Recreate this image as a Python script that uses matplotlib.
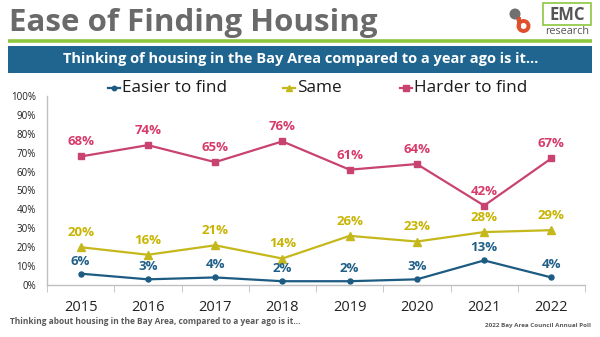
import matplotlib
matplotlib.use("Agg")
import matplotlib.pyplot as plt
from matplotlib.patches import Rectangle, Circle

plt.rcParams['font.family'] = ['Open Sans', 'DejaVu Sans']

years = ["2015", "2016", "2017", "2018", "2019", "2020", "2021", "2022"]
easier = [6, 3, 4, 2, 2, 3, 13, 4]
same = [20, 16, 21, 14, 26, 23, 28, 29]
harder = [68, 74, 65, 76, 61, 64, 42, 67]
series_names = ["Easier to find", "Same", "Harder to find"]
y_ticks = [0, 10, 20, 30, 40, 50, 60, 70, 80, 90, 100]

c_easier = "#1d5b82"
c_same = "#c5b81c"
c_harder = "#c9436f"
lbl_easier = "#1f5f88"
lbl_same = "#c8b400"
lbl_harder = "#d83a6a"

W, H = 600, 337
fig = plt.figure(figsize=(W / 100, H / 100), dpi=100)
fig.patch.set_facecolor("white")

# Page decoration layer in pixel units
deco = fig.add_axes([0, 0, 1, 1])
deco.set_xlim(0, W)
deco.set_ylim(H, 0)
deco.axis("off")

deco.text(9, 23, "Ease of Finding Housing", fontsize=22.5, fontweight="bold",
          color="#6a6a6a", va="center", ha="left")
deco.plot([8, 592], [40.5, 40.5], color="#8cc63e", lw=2.6, solid_capstyle="butt")
deco.add_patch(Rectangle((8, 46), 584, 27, facecolor="#1f6590", edgecolor="none"))
deco.text(301, 59.5, "Thinking of housing in the Bay Area compared to a year ago is it\u2026",
          fontsize=10.5, fontweight="bold", color="white", ha="center", va="center")

# Logo
deco.add_patch(Circle((515, 14), 5.5, facecolor="#707070", edgecolor="none"))
deco.plot([517, 519], [15, 21], color="#707070", lw=3)
deco.add_patch(Circle((523.5, 26), 5.0, facecolor="none", edgecolor="#e0502a", lw=2.8))
deco.plot([518.5, 518.5], [19, 26], color="#e0502a", lw=2.8)
deco.add_patch(Rectangle((543, 3), 48, 22, facecolor="none", edgecolor="#8cc63e", lw=1.2))
deco.text(567, 14.5, "EMC", fontsize=12, fontweight="bold", color="#555555",
          ha="center", va="center")
deco.text(567, 32, "research", fontsize=7.8, color="#555555", ha="center", va="center")

# Footers
deco.text(10, 321, "Thinking about housing in the Bay Area, compared to a year ago is it\u2026",
          fontsize=6.0, fontweight="bold", color="#5a5a5a", ha="left", va="center")
deco.text(591, 326, "2022 Bay Area Council Annual Poll", fontsize=4.5, fontweight="bold",
          color="#5a5a5a", ha="right", va="center")

# Legend
legend_items = [
    (series_names[0], c_easier, "o", 3.2, 108),
    (series_names[1], c_same, "^", 4.5, 283),
    (series_names[2], c_harder, "s", 4.2, 400),
]
for name, col, mk, ms, x0 in legend_items:
    deco.plot([x0, x0 + 12], [88, 88], color=col, lw=1.6)
    deco.plot([x0 + 6], [88], marker=mk, color=col, ms=ms, lw=0)
    deco.text(x0 + 14, 88, name, fontsize=12.3, color="#1a1a1a", ha="left", va="center")

# Chart
ax = fig.add_axes([47 / W, 52 / H, 538 / W, 189 / H])
x = list(range(len(years)))
ax.plot(x, harder, color=c_harder, lw=1.6, marker="s", ms=4.6)
ax.plot(x, same, color=c_same, lw=1.6, marker="^", ms=5.2)
ax.plot(x, easier, color=c_easier, lw=1.6, marker="o", ms=3.6)

for vals, col, off in ((harder, lbl_harder, 10.5), (same, lbl_same, 10.5), (easier, lbl_easier, 9)):
    for xi, v in zip(x, vals):
        ax.annotate(f"{v}%", (xi, v), xytext=(0, off), textcoords="offset points",
                    ha="center", va="center", fontsize=9.5, fontweight="bold", color=col)

ax.set_xlim(-0.5, len(years) - 0.5)
ax.set_ylim(0, 100)
ax.set_yticks(y_ticks)
ax.set_yticklabels([f"{t}%" for t in y_ticks], fontsize=7, color="#222222")
ax.set_xticks(x)
ax.set_xticklabels(years, fontsize=10.5, color="#222222")
ax.set_xticks([i - 0.5 for i in range(len(years) + 1)], minor=True)
ax.tick_params(axis="x", which="major", length=0, pad=11)
ax.tick_params(axis="x", which="minor", length=5, color="#bfbfbf", direction="out")
ax.tick_params(axis="y", length=0, pad=8)
for s in ["top", "right"]:
    ax.spines[s].set_visible(False)
for s in ["left", "bottom"]:
    ax.spines[s].set_color("#c0c0c0")
    ax.spines[s].set_linewidth(1.0)
ax.set_facecolor("none")

fig.savefig("out.png", dpi=100, facecolor="white")
